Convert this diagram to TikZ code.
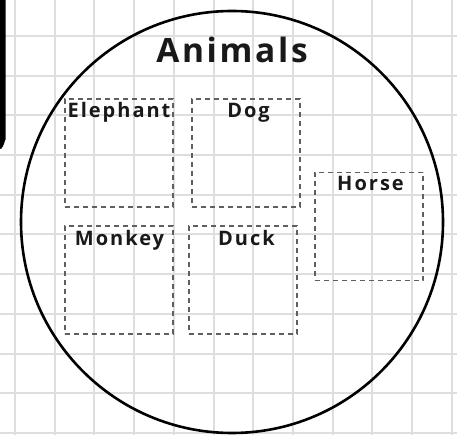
\documentclass[tikz,border=0pt]{standalone}
\usepackage{fontspec}
\newfontfamily\labfont[LetterSpace=8]{Open Sans}
\newfontfamily\smallfont[LetterSpace=10]{Open Sans}
\definecolor{gridgray}{RGB}{222,222,222}
\definecolor{dashgray}{RGB}{95,95,95}
\definecolor{inkcol}{RGB}{25,25,25}
\tikzset{
  gridline/.style={draw=gridgray, line width=2pt},
  animalbox/.style={draw=dashgray, line width=1.3pt, dash pattern=on 5pt off 4pt, rectangle, minimum width=108pt, minimum height=108pt, inner sep=0pt},
  animallabel/.style={anchor=base, text=inkcol, font=\smallfont\fontsize{20}{23}\selectfont\bfseries, inner sep=0pt},
  titlelabel/.style={anchor=base, text=inkcol, font=\labfont\fontsize{33.5}{38}\selectfont\bfseries, inner sep=0pt},
}
\begin{document}
\begin{tikzpicture}[x=1pt,y=-1pt]
\useasboundingbox (0,0) rectangle (457,435);
\fill[white] (0,0) rectangle (457,435);
% grid
\foreach \i in {0,...,11} {
  \draw[gridline] ({15+39.7*\i},0) -- ({15+39.7*\i},435);
}
\foreach \j in {0,...,10} {
  \draw[gridline] (0,{36+39.7*\j}) -- (457,{36+39.7*\j});
}
% black bar at the left edge
\fill[black] (0,0) -- (5.5,0) -- (5.5,140) to[out=90,in=0] (0,149) -- cycle;
% set circle
\node[circle, draw=black, line width=2.6pt, minimum size=422pt, inner sep=0pt] (animals) at (232,222) {};
\node[titlelabel] (title) at (232,63) {Animals};
% boxes
\node[animalbox] (elephant) at (119,153) {};
\node[animalbox] (dog) at (246,153) {};
\node[animalbox] (horse) at (369,226.5) {};
\node[animalbox] (monkey) at (119,280) {};
\node[animalbox] (duck) at (243,280) {};
% labels
\node[animallabel] (elephantlabel) at (119,118) {Elephant};
\node[animallabel] (doglabel) at (248.5,118) {Dog};
\node[animallabel] (horselabel) at (370.5,191) {Horse};
\node[animallabel] (monkeylabel) at (119.5,246) {Monkey};
\node[animallabel] (ducklabel) at (246.5,246) {Duck};
\end{tikzpicture}
\end{document}
